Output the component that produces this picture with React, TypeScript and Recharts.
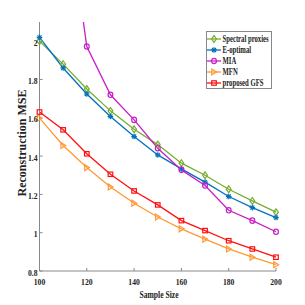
import React from "react";
import { LineChart, Line, XAxis, YAxis } from "recharts";

const sampleSizes = [100, 110, 120, 130, 140, 150, 160, 170, 180, 190, 200];
const spectralProxies = [2.0, 1.88, 1.75, 1.636, 1.54, 1.46, 1.363, 1.3, 1.227, 1.166, 1.107];
const eOptimal = [2.02, 1.86, 1.724, 1.607, 1.502, 1.406, 1.333, 1.264, 1.189, 1.131, 1.079];
const mia = [3.6, 2.86, 1.972, 1.72, 1.589, 1.441, 1.328, 1.246, 1.117, 1.063, 1.005];
const mfn = [1.598, 1.455, 1.34, 1.239, 1.154, 1.082, 1.02, 0.966, 0.915, 0.872, 0.833];
const proposedGfs = [1.63, 1.537, 1.412, 1.305, 1.218, 1.145, 1.063, 1.011, 0.958, 0.915, 0.872];

const xTicks = sampleSizes;
const yTicks = [0.8, 1, 1.2, 1.4, 1.6, 1.8, 2];

const FONT = "'Liberation Serif', 'Times New Roman', serif";
const AXIS = "#888888";

const data = sampleSizes.map((s, i) => ({
  size: s,
  spectral: spectralProxies[i],
  eopt: eOptimal[i],
  mia: mia[i],
  mfn: mfn[i],
  gfs: proposedGfs[i],
}));

type Shape = "diamond" | "star" | "circle" | "triangle" | "square";

const series: { key: string; name: string; color: string; shape: Shape }[] = [
  { key: "spectral", name: "Spectral proxies", color: "#77AC30", shape: "diamond" },
  { key: "eopt", name: "E-optimal", color: "#0072BD", shape: "star" },
  { key: "mia", name: "MIA", color: "#C81EC8", shape: "circle" },
  { key: "mfn", name: "MFN", color: "#FF9933", shape: "triangle" },
  { key: "gfs", name: "proposed GFS", color: "#FF1010", shape: "square" },
];

function Marker({ shape, cx, cy, color }: { shape: Shape; cx: number; cy: number; color: string }) {
  const common = { fill: "none", stroke: color, strokeWidth: 1.2 };
  switch (shape) {
    case "diamond":
      return <polygon points={`${cx},${cy - 3.4} ${cx + 2.4},${cy} ${cx},${cy + 3.4} ${cx - 2.4},${cy}`} {...common} />;
    case "circle":
      return <ellipse cx={cx} cy={cy} rx={2.4} ry={2.7} {...common} />;
    case "triangle":
      return <polygon points={`${cx + 2.6},${cy} ${cx - 2.2},${cy - 3} ${cx - 2.2},${cy + 3}`} {...common} />;
    case "square":
      return <rect x={cx - 2.3} y={cy - 2.2} width={4.6} height={4.4} {...common} />;
    case "star":
      return (
        <g stroke={color} strokeWidth={1.2}>
          <line x1={cx - 2.8} y1={cy} x2={cx + 2.8} y2={cy} />
          <line x1={cx} y1={cy - 2.8} x2={cx} y2={cy + 2.8} />
          <line x1={cx - 2} y1={cy - 2} x2={cx + 2} y2={cy + 2} />
          <line x1={cx - 2} y1={cy + 2} x2={cx + 2} y2={cy - 2} />
        </g>
      );
  }
  return null;
}

const makeDot = (shape: Shape, color: string) => (props: any) => {
  const { cx, cy, index } = props;
  if (cx == null || cy == null) return <g key={index} />;
  return (
    <g key={index}>
      <Marker shape={shape} cx={cx} cy={cy} color={color} />
    </g>
  );
};

const fmtY = (v: number) => String(+v.toFixed(1));

function XTick({ x, y, payload }: any) {
  return (
    <g transform={`translate(${x},${y})`}>
      <text transform="translate(0,13.5) scale(0.9,1)" textAnchor="middle" fontFamily={FONT} fontWeight="bold" fontSize={8.5} fill="#222">
        {payload.value}
      </text>
    </g>
  );
}

function YTick({ x, y, payload }: any) {
  return (
    <g transform={`translate(${x},${y})`}>
      <text transform="translate(0.5,4.5) scale(0.9,1)" textAnchor="end" fontFamily={FONT} fontWeight="bold" fontSize={8.5} fill="#222">
        {fmtY(payload.value)}
      </text>
    </g>
  );
}

function LegendBox() {
  const rowH = 11;
  return (
    <svg width={66} height={58} style={{ position: "absolute", left: 206, top: 31 }}>
      <rect x={0.5} y={0.5} width={65} height={57} fill="#fff" stroke={AXIS} strokeWidth={1} />
      {series.map((s, i) => {
        const cy = 8 + i * rowH;
        return (
          <g key={s.key}>
            <line x1={1} y1={cy} x2={15} y2={cy} stroke={s.color} strokeWidth={1.3} />
            <Marker shape={s.shape} cx={8} cy={cy} color={s.color} />
            <text
              transform={`translate(16.5,${cy + 3}) scale(0.67,1)`}
              fontFamily={FONT}
              fontWeight="bold"
              fontSize={10}
              fill="#222"
            >
              {s.name}
            </text>
          </g>
        );
      })}
    </svg>
  );
}

export default function App() {
  return (
    <div style={{ position: "absolute", left: 0, top: 0, width: 305, height: 305, background: "#fff" }}>
      <LineChart width={305} height={305} data={data} margin={{ top: 22, right: 29, left: 0, bottom: 0 }}>
        <XAxis
          dataKey="size"
          type="number"
          domain={[100, 200]}
          ticks={xTicks}
          height={34}
          stroke={AXIS}
          tickSize={-3}
          tickMargin={3}
          tick={<XTick />}
          label={{
            content: () => (
              <text
                transform="translate(159,298) scale(0.8,1)"
                textAnchor="middle"
                fontFamily={FONT}
                fontWeight="bold"
                fontSize={9.5}
                fill="#222"
              >
                Sample Size
              </text>
            ),
          }}
        />
        <XAxis
          xAxisId="top"
          dataKey="size"
          type="number"
          orientation="top"
          domain={[100, 200]}
          ticks={xTicks}
          height={0}
          stroke={AXIS}
          tickSize={-3}
          tick={false}
        />
        <YAxis
          type="number"
          domain={[0.8, 2.1]}
          allowDataOverflow
          ticks={yTicks}
          width={39.5}
          stroke={AXIS}
          tickSize={-3}
          tickMargin={5.5}
          tick={<YTick />}
          label={{
            content: () => (
              <text
                transform="translate(23,143) rotate(-90)"
                textAnchor="middle"
                dominantBaseline="middle"
                fontFamily={FONT}
                fontWeight="bold"
                fontSize={12}
                fill="#222"
              >
                Reconstruction MSE
              </text>
            ),
          }}
        />
        <YAxis
          yAxisId="right"
          orientation="right"
          type="number"
          domain={[0.8, 2.1]}
          allowDataOverflow
          ticks={yTicks}
          width={0}
          stroke={AXIS}
          tickSize={-3}
          tick={false}
        />
        {series.map((s) => (
          <Line
            key={s.key}
            dataKey={s.key}
            name={s.name}
            type="linear"
            stroke={s.color}
            strokeWidth={1.3}
            dot={makeDot(s.shape, s.color)}
            activeDot={false}
            isAnimationActive={false}
          />
        ))}
      </LineChart>
      <LegendBox />
    </div>
  );
}
